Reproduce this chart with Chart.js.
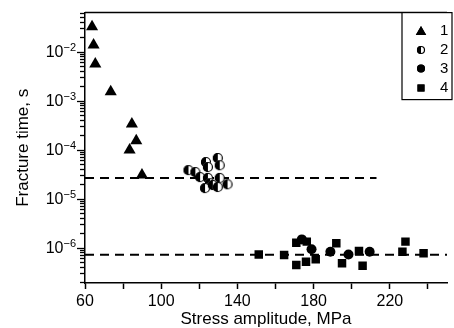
<!DOCTYPE html>
<html><head><meta charset="utf-8">
<script src="https://cdn.jsdelivr.net/npm/chart.js@4.4.1/dist/chart.umd.min.js"></script>
<style>html,body{margin:0;padding:0;background:#fff;}#wrap{width:454px;height:328px;}</style>
</head><body><div id="wrap"><canvas id="c" width="454" height="328"></canvas></div>
<script>
// ---- data ----
const series1Stress = [63.7, 64.5, 65.4, 73.5, 84.6, 86.9, 83.4, 89.9];
const series1Time   = [0.0328, 0.0139, 0.0057, 0.00155, 3.4e-4, 1.55e-4, 1.0e-4, 3.1e-5];

const series2Stress = [114.3, 117.9, 120.4, 123.5, 124.5, 129.7, 130.7, 124.5, 125.6, 130.7, 123.0, 127.1, 129.7, 134.8];
const series2Time   = [3.9e-5, 3.56e-5, 2.8e-5, 5.7e-5, 4.5e-5, 6.9e-5, 4.9e-5, 2.7e-5, 2.1e-5, 2.7e-5, 1.67e-5, 1.93e-5, 1.76e-5, 2.0e-5];

const series3Stress = [173.8, 178.9, 188.8, 198.3, 209.4];
const series3Time   = [1.5e-6, 9.4e-7, 8.4e-7, 7.4e-7, 8.4e-7];

const series4Stress = [151.2, 164.5, 170.9, 170.9, 176.0, 181.1, 176.4, 191.9, 194.9, 203.8, 205.7, 226.6, 228.2, 237.7];
const series4Time   = [7.4e-7, 7.2e-7, 1.28e-6, 4.5e-7, 5.25e-7, 5.9e-7, 1.35e-6, 1.25e-6, 4.9e-7, 8.7e-7, 4.35e-7, 8.4e-7, 1.35e-6, 7.8e-7];

const fitUpperStress = [60, 213];
const fitUpperTime   = [2.7e-5, 2.7e-5];
const fitLowerStress = [60, 250];
const fitLowerTime   = [7.3e-7, 7.3e-7];

const legendLabels = ['1', '2', '3', '4'];

const xTickValues = [60, 80, 100, 120, 140, 160, 180, 200, 220, 240];
const xTickLabels = ['60', '', '100', '', '140', '', '180', '', '220', ''];
const yMajorTicks = [1e-6, 1e-5, 1e-4, 1e-3, 1e-2];
const yTickBase = '10';
const yTickExponents = ['\u22126', '\u22125', '\u22124', '\u22123', '\u22122'];

const xTitle = 'Stress amplitude, MPa';
const yTitle = 'Fracture time, s';

// ---- helpers ----
const pts = (xs, ys) => xs.map((x, i) => ({x: x, y: ys[i]}));
const FONT = '"Liberation Sans", Arial, "DejaVu Sans", sans-serif';

function halfCircle(r) {
  const s = Math.ceil(2 * r + 2);
  const cv = document.createElement('canvas');
  cv.width = s; cv.height = s;
  const g = cv.getContext('2d');
  const c = s / 2;
  g.beginPath(); g.arc(c, c, r, 0, Math.PI * 2); g.fillStyle = '#fff'; g.fill();
  g.beginPath(); g.moveTo(c, c - r); g.arc(c, c, r, -Math.PI / 2, Math.PI / 2, true); g.closePath(); g.fillStyle = '#000'; g.fill();
  g.beginPath(); g.arc(c, c, r - 0.5, 0, Math.PI * 2); g.lineWidth = 1.2; g.strokeStyle = '#000'; g.stroke();
  return cv;
}
const half5 = halfCircle(5);
const half4 = halfCircle(4);

const styles = [
  {pointStyle: 'triangle', radius: 7, lradius: 6},
  {pointStyle: half5, radius: 5, limg: half4},
  {pointStyle: 'circle', radius: 5, lradius: 4},
  {pointStyle: 'rect', radius: 6, lradius: 5}
];

const decor = {
  id: 'decor',
  afterDraw(chart) {
    const ctx = chart.ctx, a = chart.chartArea;
    ctx.save();
    // top frame line
    ctx.strokeStyle = '#000'; ctx.lineWidth = 1.5;
    ctx.beginPath(); ctx.moveTo(a.left, a.top); ctx.lineTo(a.right, a.top); ctx.stroke();
    // y tick labels with superscripts
    const ys = chart.scales.y;
    const labelRight = ys.right - 9;
    yMajorTicks.forEach((v, i) => {
      const py = ys.getPixelForValue(v);
      ctx.fillStyle = '#000';
      ctx.textBaseline = 'alphabetic';
      ctx.font = '11px ' + FONT;
      const ew = ctx.measureText(yTickExponents[i]).width;
      ctx.textAlign = 'left';
      ctx.fillText(yTickExponents[i], labelRight - ew, py - 1.5);
      ctx.font = '16px ' + FONT;
      ctx.textAlign = 'right';
      ctx.fillText(yTickBase, labelRight - ew, py + 4.5);
    });
    // legend box
    const bx = 402, by = a.top, bw = 50, bh = 87;
    ctx.fillStyle = '#fff';
    ctx.fillRect(bx, by, bw, bh);
    ctx.lineWidth = 1.2;
    ctx.strokeRect(bx, by, bw, bh);
    ctx.font = '15px ' + FONT;
    ctx.textBaseline = 'middle'; ctx.textAlign = 'left';
    const rowY = [30.5, 50, 68.5, 88];
    legendLabels.forEach((lab, i) => {
      const y = rowY[i];
      const st = styles[i];
      ctx.fillStyle = '#000'; ctx.strokeStyle = '#000';
      if (st.limg) {
        ctx.drawImage(st.limg, 421 - st.limg.width / 2, y - st.limg.height / 2);
      } else {
        Chart.helpers.drawPoint(ctx, {pointStyle: st.pointStyle, radius: st.lradius, rotation: 0, borderWidth: 0}, 421, y + (st.pointStyle === 'triangle' ? 1.5 : 0));
        ctx.fill();
      }
      ctx.fillStyle = '#000';
      ctx.fillText(lab, 440, y);
    });
    ctx.restore();
  }
};

const scatterDs = (label, xs, ys, st) => ({
  label: label, data: pts(xs, ys), pointStyle: st.pointStyle, pointRadius: st.radius,
  pointHoverRadius: st.radius, backgroundColor: '#000', borderColor: '#000', pointBorderWidth: 0,
  showLine: false, order: 0
});
const lineDs = (xs, ys) => ({
  data: pts(xs, ys), showLine: true, borderColor: '#000', borderWidth: 2, borderDash: [9, 6],
  pointRadius: 0, fill: false, order: 10
});

new Chart(document.getElementById('c'), {
  type: 'scatter',
  data: {
    datasets: [
      scatterDs('1', series1Stress, series1Time, styles[0]),
      scatterDs('2', series2Stress, series2Time, styles[1]),
      scatterDs('3', series3Stress, series3Time, styles[2]),
      scatterDs('4', series4Stress, series4Time, styles[3]),
      lineDs(fitUpperStress, fitUpperTime),
      lineDs(fitLowerStress, fitLowerTime)
    ]
  },
  options: {
    responsive: false, animation: false, devicePixelRatio: 1,
    layout: {padding: {left: 0, right: 0, top: 12, bottom: 0}},
    plugins: {legend: {display: false}, tooltip: {enabled: false}},
    scales: {
      x: {
        type: 'linear', position: 'bottom', min: 60, max: 250,
        afterBuildTicks: s => { s.ticks = xTickValues.map((v, i) => ({value: v, lab: xTickLabels[i]})); },
        afterFit: s => { s.height = 45; },
        ticks: {autoSkip: false, maxRotation: 0, color: '#000', padding: 3,
          font: {family: FONT, size: 16},
          callback: (v, i, t) => t[i].lab},
        grid: {drawOnChartArea: false, drawTicks: true, tickLength: 6, tickColor: '#000', tickWidth: 1.5},
        border: {color: '#000', width: 1.5},
        title: {display: true, text: xTitle, color: '#000', font: {family: FONT, size: 17, lineHeight: 1}, padding: {top: 0, bottom: 0}}
      },
      y: {
        type: 'logarithmic', position: 'left', min: 1.93e-7, max: 0.064,
        afterBuildTicks: s => {
          const t = [];
          yMajorTicks.forEach((m) => {
            t.push({value: m, major: true});
            for (let k = 2; k <= 9; k++) {
              const v = m * k;
              if (v <= s.max) t.push({value: v, major: false});
            }
          });
          [2e-7, 3e-7, 4e-7, 5e-7, 6e-7, 7e-7, 8e-7, 9e-7].forEach(v => { if (v >= s.min) t.push({value: v, major: false}); });
          t.sort((a, b) => a.value - b.value);
          s.ticks = t;
        },
        afterFit: s => { s.width = 85; },
        ticks: {autoSkip: false, color: '#000', padding: 3,
          font: {family: FONT, size: 16},
          callback: () => ''},
        grid: {drawOnChartArea: false, drawTicks: true, tickLength: 8, tickColor: '#000', tickWidth: 1.3,
          tickBorderDash: c => (c.tick && c.tick.major) ? [] : [5, 3],
          tickBorderDashOffset: c => (c.tick && c.tick.major) ? 0 : 5},
        border: {color: '#000', width: 1.5},
        title: {display: true, text: yTitle, color: '#000', font: {family: FONT, size: 17, lineHeight: 1}, padding: {top: 15, bottom: 0}}
      }
    }
  },
  plugins: [decor]
});
</script>
</body></html>
